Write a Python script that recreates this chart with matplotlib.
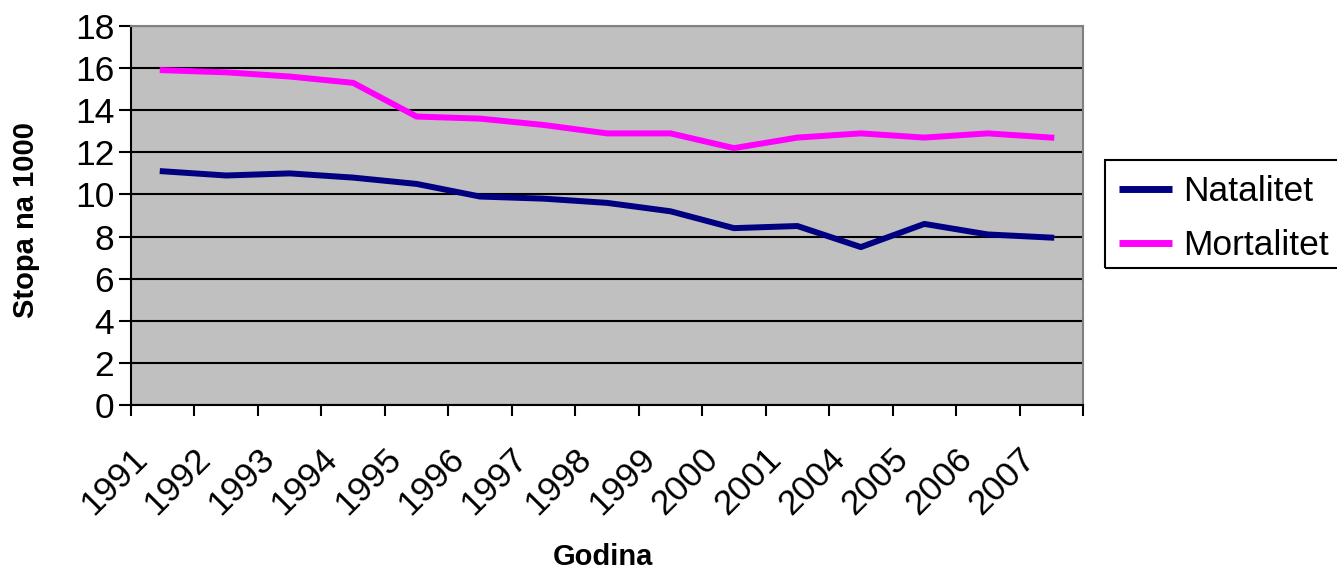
import numpy as np
import matplotlib
matplotlib.use('Agg')
import matplotlib.pyplot as plt
import matplotlib.transforms as mtransforms
from matplotlib.patches import Rectangle

# values
years = ['1991', '1992', '1993', '1994', '1995', '1996', '1997', '1998',
         '1999', '2000', '2001', '2004', '2005', '2006', '2007']
natalitet = [11.1, 10.9, 11.0, 10.8, 10.5, 9.9, 9.8, 9.6,
             9.2, 8.4, 8.5, 7.5, 8.6, 8.1, 7.95]
mortalitet = [15.9, 15.8, 15.6, 15.3, 13.7, 13.6, 13.3, 12.9,
              12.9, 12.2, 12.7, 12.9, 12.7, 12.9, 12.7]

plt.rcParams['font.family'] = ['Liberation Sans', 'DejaVu Sans']

W, H = 1337, 572
fig = plt.figure(figsize=(W/100, H/100), dpi=100)
ax = fig.add_axes([131/W, 1 - 405/H, (1083 - 131)/W, (405 - 26)/H])
ax.set_facecolor('#C0C0C0')

x = np.arange(len(years))
ax.plot(x, natalitet, color='#000080', lw=4.3, label='Natalitet', zorder=3)
ax.plot(x, mortalitet, color='#FF00FF', lw=4.3, label='Mortalitet', zorder=3)

ax.set_xlim(-0.5, len(years) - 0.5)
ax.set_ylim(0, 18)
ax.set_yticks(range(0, 19, 2))
ax.yaxis.grid(True, color='black', lw=1.5)
ax.set_axisbelow(True)

# category labels at centres, tick marks at the boundaries
ax.set_xticks(x)
ax.set_xticklabels(years, rotation=45, ha='right', va='top',
                   rotation_mode='anchor', fontsize=25.5)
ax.set_xticks(np.arange(-0.5, len(years)), minor=True)
ax.tick_params(axis='x', which='major', length=0, pad=26.6)
ax.tick_params(axis='x', which='minor', length=8, width=1.5, color='black')
ax.tick_params(axis='y', length=8.6, width=1.5, labelsize=25.5, pad=3.5)
shift = mtransforms.ScaledTranslation(-32.5/100, 0, fig.dpi_scale_trans)
for lab in ax.get_xticklabels():
    lab.set_transform(lab.get_transform() + shift)

for side in ['left', 'bottom']:
    ax.spines[side].set_color('black')
    ax.spines[side].set_linewidth(1.5)
for side in ['right', 'top']:
    ax.spines[side].set_color('#808080')
    ax.spines[side].set_linewidth(1.5)

fig.text(26/W, 1 - 219.5/H, 'Stopa na 1000', fontsize=21, fontweight='bold',
         rotation=90, ha='center', va='center')
fig.text(603/W, 1 - 557/H, 'Godina', fontsize=21, fontweight='bold',
         ha='center', va='center')

# legend box runs off the right edge of the picture
fig.patches.append(Rectangle((1105/W, 1 - 268/H), 240/W, 108/H,
                             transform=fig.transFigure, facecolor='none',
                             edgecolor='black', lw=1.5, zorder=1))
leg = ax.legend(loc='upper left', bbox_to_anchor=(1105/W, 1 - 161/H),
                bbox_transform=fig.transFigure, fontsize=25.5, frameon=False,
                handlelength=1.5, handletextpad=0.3, labelspacing=0.6,
                borderpad=0.4, borderaxespad=0)
for line in leg.get_lines():
    line.set_linewidth(5)
    line.set_solid_capstyle('butt')

fig.savefig('out.png', dpi=100)
